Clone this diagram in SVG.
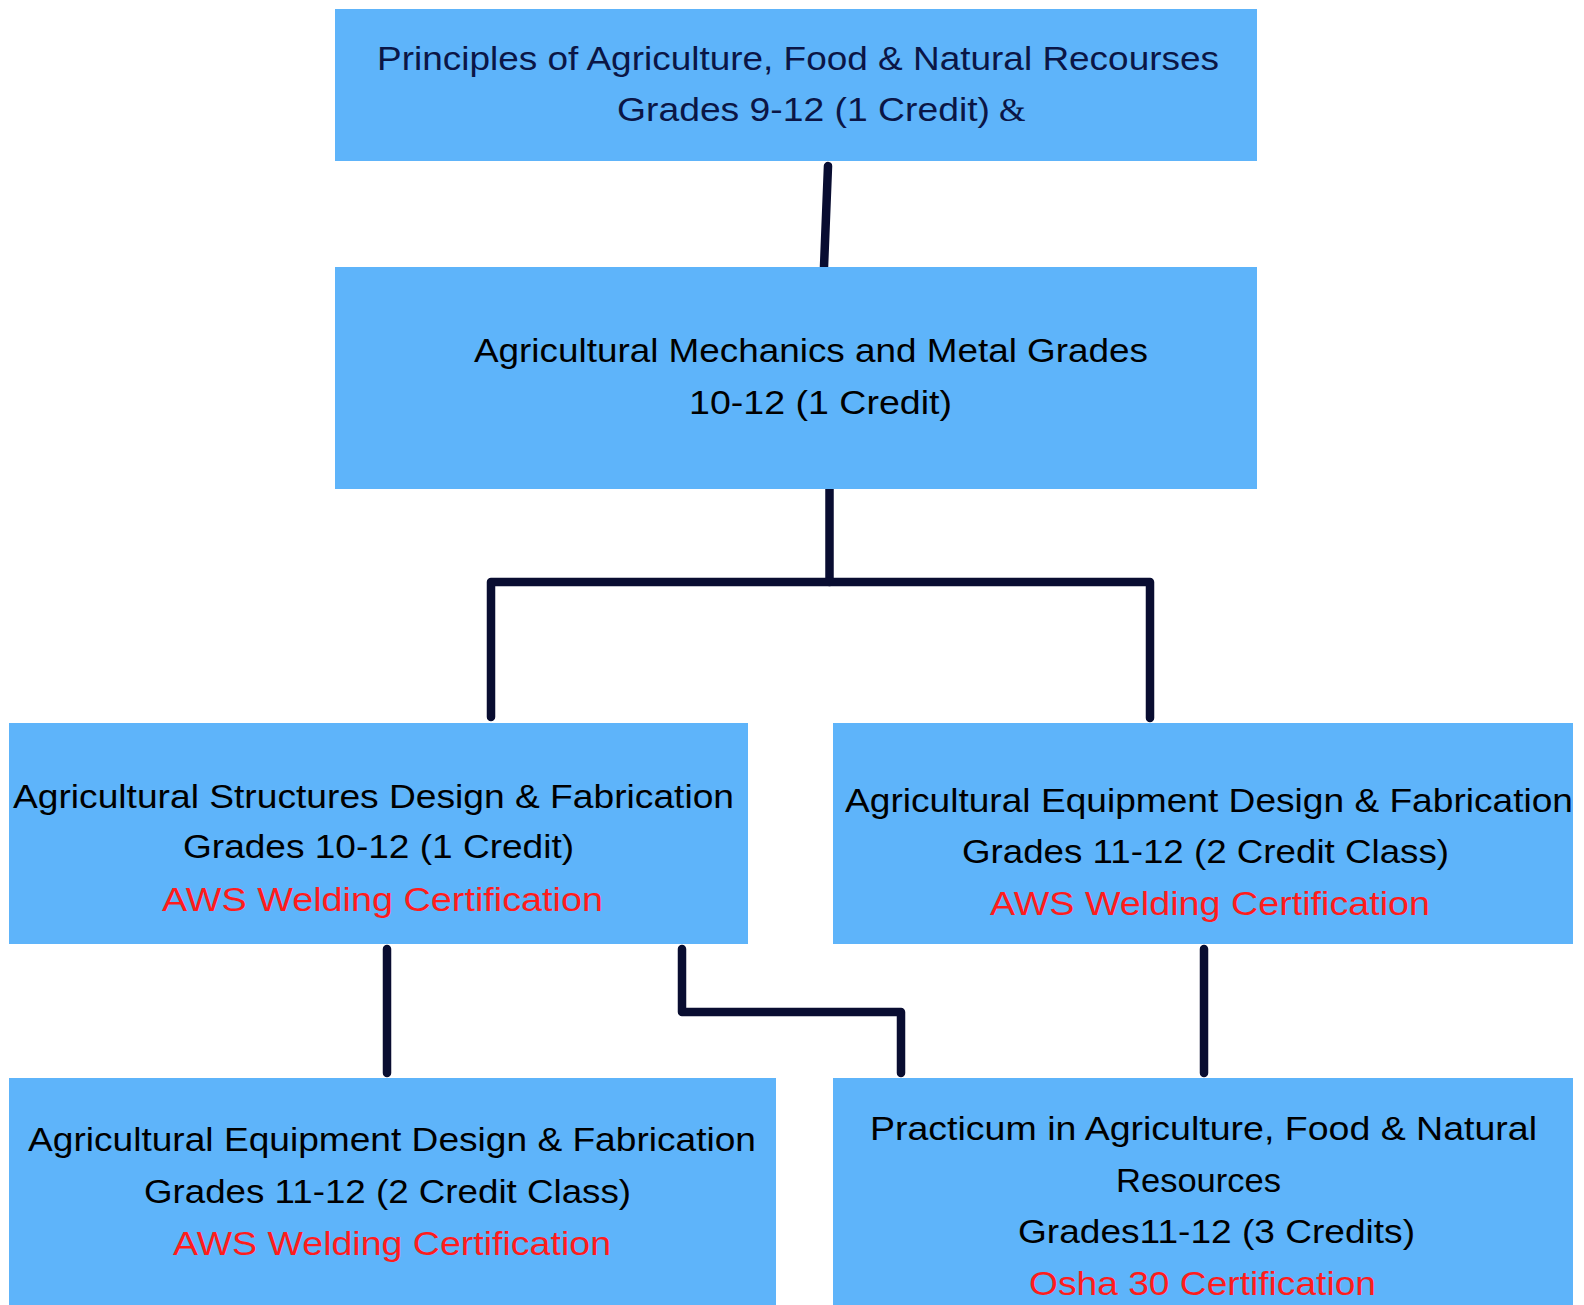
<svg xmlns="http://www.w3.org/2000/svg" width="1584" height="1305" viewBox="0 0 1584 1305">
  <style>
    .box { fill: #5EB4FA; }
    .t { font-family: "Liberation Sans", Arial, sans-serif; font-size: 33px; fill: #000000; }
    .navy { fill: #0B1646; }
    .red { fill: #FF1C1C; }
    .amp { font-family: "Liberation Serif", "Times New Roman", serif; font-size: 34px; fill: #0B1646; }
    .link { fill: none; stroke: #090D31; stroke-width: 8.5; stroke-linecap: round; stroke-linejoin: round; }
  </style>
  <rect width="1584" height="1305" fill="#FFFFFF"/>

  <g id="connectors">
    <path class="link" d="M828,166 L824,267"/>
    <path class="link" d="M829.5,489 L829.5,582"/>
    <path class="link" d="M491,717 L491,582 L1150,582 L1150,718"/>
    <path class="link" d="M387,949 L387,1073"/>
    <path class="link" d="M682,949 L682,1012 L901,1012 L901,1073"/>
    <path class="link" d="M1204,949 L1204,1073"/>
  </g>

  <g id="principles">
    <rect class="box" x="335" y="9" width="922" height="152"/>
    <text class="t navy" x="377" y="70" textLength="842" lengthAdjust="spacingAndGlyphs">Principles of Agriculture, Food &amp; Natural Recourses</text>
    <text class="t navy" x="617" y="121" textLength="373" lengthAdjust="spacingAndGlyphs">Grades 9-12 (1 Credit)</text>
    <text class="amp" x="999" y="121">&amp;</text>
  </g>

  <g id="mechanics">
    <rect class="box" x="335" y="267" width="922" height="222"/>
    <text class="t" x="474" y="362" textLength="674" lengthAdjust="spacingAndGlyphs">Agricultural Mechanics and Metal Grades</text>
    <text class="t" x="689" y="414" textLength="263" lengthAdjust="spacingAndGlyphs">10-12 (1 Credit)</text>
  </g>

  <g id="structures">
    <rect class="box" x="9" y="723" width="739" height="221"/>
    <text class="t" x="13" y="808" textLength="721" lengthAdjust="spacingAndGlyphs">Agricultural Structures Design &amp; Fabrication</text>
    <text class="t" x="183" y="858" textLength="391" lengthAdjust="spacingAndGlyphs">Grades 10-12 (1 Credit)</text>
    <text class="t red" x="162" y="911" textLength="441" lengthAdjust="spacingAndGlyphs">AWS Welding Certification</text>
  </g>

  <g id="equipment-right">
    <rect class="box" x="833" y="723" width="740" height="221"/>
    <text class="t" x="845" y="812" textLength="728" lengthAdjust="spacingAndGlyphs">Agricultural Equipment Design &amp; Fabrication</text>
    <text class="t" x="962" y="863" textLength="487" lengthAdjust="spacingAndGlyphs">Grades 11-12 (2 Credit Class)</text>
    <text class="t red" x="990" y="915" textLength="440" lengthAdjust="spacingAndGlyphs">AWS Welding Certification</text>
  </g>

  <g id="equipment-left">
    <rect class="box" x="9" y="1078" width="767" height="227"/>
    <text class="t" x="28" y="1151" textLength="728" lengthAdjust="spacingAndGlyphs">Agricultural Equipment Design &amp; Fabrication</text>
    <text class="t" x="144" y="1203" textLength="487" lengthAdjust="spacingAndGlyphs">Grades 11-12 (2 Credit Class)</text>
    <text class="t red" x="173" y="1255" textLength="438" lengthAdjust="spacingAndGlyphs">AWS Welding Certification</text>
  </g>

  <g id="practicum">
    <rect class="box" x="833" y="1078" width="740" height="227"/>
    <text class="t" x="870" y="1140" textLength="667" lengthAdjust="spacingAndGlyphs">Practicum in Agriculture, Food &amp; Natural</text>
    <text class="t" x="1116" y="1192" textLength="165" lengthAdjust="spacingAndGlyphs">Resources</text>
    <text class="t" x="1018" y="1243" textLength="397" lengthAdjust="spacingAndGlyphs">Grades11-12 (3 Credits)</text>
    <text class="t red" x="1029" y="1295" textLength="347" lengthAdjust="spacingAndGlyphs">Osha 30 Certification</text>
  </g>
</svg>
